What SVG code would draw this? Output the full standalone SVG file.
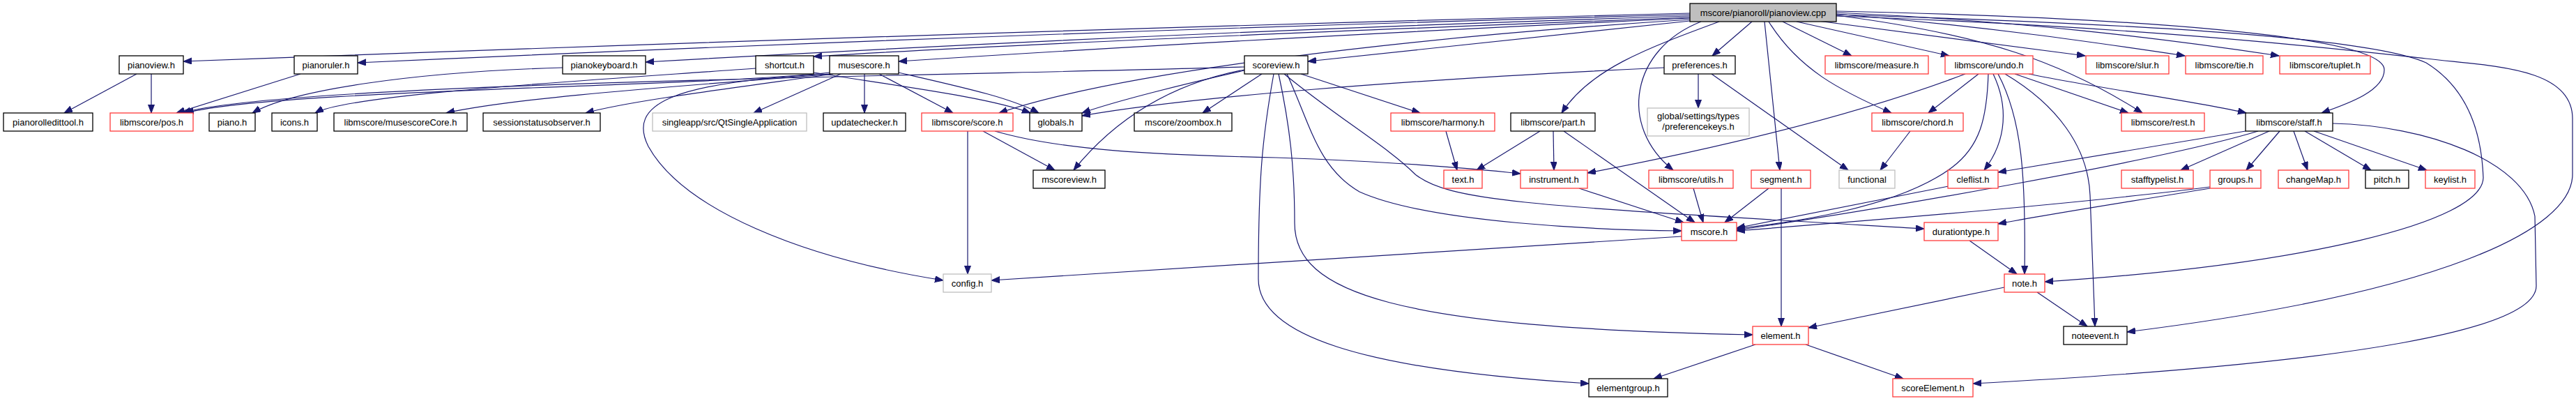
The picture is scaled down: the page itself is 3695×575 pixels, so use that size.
<svg xmlns="http://www.w3.org/2000/svg" width="3695" height="575" viewBox="0 0 3695 575">
<defs>
<marker id="a" markerUnits="userSpaceOnUse" markerWidth="13" markerHeight="10" refX="12" refY="4.5" orient="auto"><path d="M0,0 L12,4.5 L0,9 z" fill="#191970" stroke="#191970" stroke-width="1"/></marker>
</defs>
<style>
rect{fill:#fff;stroke:#000;stroke-width:1.3}
.r rect{stroke:#ff3b3b}
.g rect{stroke:#bfbfbf}
.t rect{fill:#bfbfbf}
text{font-family:"Liberation Sans",Arial,sans-serif;font-size:13px;text-anchor:middle;fill:#000}
#edges path{fill:none;stroke:#191970;stroke-width:1.2;marker-end:url(#a)}
</style>
<rect x="0" y="0" width="3695" height="575" style="fill:#fff;stroke:none"/>
<g id="edges">
<path d="M2424,19 Q1400,45 263,88"/>
<path d="M2424,21 Q1500,45 513,90"/>
<path d="M2424,23 Q1700,45 926,89"/>
<path d="M2424,25 Q1500,60 1167,81"/>
<path d="M2424,26 Q1800,55 1289,88"/>
<path d="M2424,30 Q2150,60 1876,88"/>
<path d="M2424,28 C2000,55 1600,105 1433,162"/>
<path d="M2513,31 L2456,80"/>
<path d="M2466,31 C2360,70 2280,100 2240,162"/>
<path d="M2440,31 C2340,70 2320,180 2400,244"/>
<path d="M2531,31 L2553,244"/>
<path d="M2537,31 C2580,100 2640,130 2713,162"/>
<path d="M2557,31 L2656,80"/>
<path d="M2577,31 L2796,80"/>
<path d="M2600,29 L2991,80"/>
<path d="M2634,22 C2850,50 2960,90 3073,162"/>
<path d="M2634,20 C2850,38 3000,60 3134,80"/>
<path d="M2634,18 C2900,30 3100,55 3269,80"/>
<path d="M2634,16 C3050,25 3420,50 3420,100 C3420,130 3370,148 3330,162"/>
<path d="M2634,21 C3100,35 3400,55 3480,90 C3545,130 3560,200 3562,255 C3560,320 3300,380 2933,404"/>
<path d="M2634,23 C3100,40 3350,70 3480,84 C3570,95 3690,95 3690,170 L3690,250 C3690,330 3500,420 3051,476"/>
<path d="M196,106 L92,162"/>
<path d="M217,106 L217,162"/>
<path d="M431,106 L253,162"/>
<path d="M807,97 C600,103 420,128 362,162"/>
<path d="M1084,98 C850,115 500,135 452,162"/>
<path d="M1190,104 C1000,125 400,128 266,162"/>
<path d="M1785,96 C1400,108 400,118 262,162"/>
<path d="M1195,106 C1000,122 750,138 640,162"/>
<path d="M1195,106 C1060,125 900,145 840,162"/>
<path d="M1206,106 L1081,162"/>
<path d="M1240,106 L1240,162"/>
<path d="M1261,106 L1367,162"/>
<path d="M1289,104 C1380,125 1450,140 1490,162"/>
<path d="M1167,104 C1300,125 1420,140 1478,162"/>
<path d="M1190,106 C960,118 900,150 930,210 C980,300 1150,370 1353,402"/>
<path d="M1785,101 C1700,120 1600,145 1552,162"/>
<path d="M2387,97 C2000,115 1700,140 1552,166"/>
<path d="M1785,100 C1680,120 1600,170 1540,244"/>
<path d="M1810,106 L1725,162"/>
<path d="M1866,106 L2037,162"/>
<path d="M1846,106 C1880,180 1890,240 1950,275 C2050,320 2300,330 2412,331"/>
<path d="M1842,106 C1920,170 1990,210 2030,250 C2080,290 2200,295 2760,328"/>
<path d="M1834,106 C1850,180 1857,240 1857,320 C1857,420 2000,470 2514,480"/>
<path d="M1827,106 C1810,200 1805,260 1805,400 C1805,480 1950,530 2279,550"/>
<path d="M1410,188 L1513,244"/>
<path d="M1388,188 L1388,393"/>
<path d="M1427,188 C1520,215 1650,222 1830,226 C2000,232 2100,240 2181,249"/>
<path d="M2074,188 L2090,244"/>
<path d="M2209,188 L2118,244"/>
<path d="M2228,188 L2229,244"/>
<path d="M2243,188 L2431,319"/>
<path d="M2265,270 L2415,319"/>
<path d="M2429,270 L2443,319"/>
<path d="M2537,270 L2474,319"/>
<path d="M2555,270 L2555,468"/>
<path d="M2436,106 L2436,155"/>
<path d="M2455,106 L2651,244"/>
<path d="M2740,188 L2697,244"/>
<path d="M2819,106 C2650,170 2450,215 2277,248"/>
<path d="M2838,106 L2766,162"/>
<path d="M2852,106 C2850,170 2840,210 2800,240 C2720,300 2560,320 2491,328"/>
<path d="M2859,106 C2880,150 2880,200 2846,244"/>
<path d="M2866,106 C2900,170 2906,250 2904,393"/>
<path d="M2876,106 C2950,150 2995,210 2998,280 L3005,468"/>
<path d="M2890,106 L3053,162"/>
<path d="M2910,106 C3000,125 3150,145 3222,162"/>
<path d="M2795,267 L2491,327"/>
<path d="M3221,188 L2866,247"/>
<path d="M3239,188 C3100,230 2700,300 2491,330"/>
<path d="M3255,188 L3128,244"/>
<path d="M3270,188 L3222,244"/>
<path d="M3290,188 L3310,244"/>
<path d="M3306,188 L3401,244"/>
<path d="M3319,188 L3481,244"/>
<path d="M3346,177 C3480,180 3620,230 3636,310 L3638,410 C3638,470 3400,520 2830,550"/>
<path d="M3170,268 C3000,290 2700,315 2491,331"/>
<path d="M3170,270 C3050,290 2950,305 2866,321"/>
<path d="M2825,345 L2893,393"/>
<path d="M2875,412 L2594,470"/>
<path d="M2922,419 L2994,468"/>
<path d="M2412,339 L1422,402"/>
<path d="M2518,494 L2372,543"/>
<path d="M2590,494 L2730,543"/>
</g>
<g id="n_top" class="t"><rect x="2424" y="5" width="210" height="26"/><text x="2529" y="22.5">mscore/pianoroll/pianoview.cpp</text></g>
<g id="n_pianoview"><rect x="171" y="80" width="92" height="26"/><text x="217" y="97.5">pianoview.h</text></g>
<g id="n_pianoruler"><rect x="422" y="80" width="91" height="26"/><text x="467.5" y="97.5">pianoruler.h</text></g>
<g id="n_pianokeyboard"><rect x="807" y="80" width="119" height="26"/><text x="866.5" y="97.5">pianokeyboard.h</text></g>
<g id="n_shortcut"><rect x="1084" y="80" width="83" height="26"/><text x="1125.5" y="97.5">shortcut.h</text></g>
<g id="n_musescore"><rect x="1190" y="80" width="99" height="26"/><text x="1239.5" y="97.5">musescore.h</text></g>
<g id="n_scoreview"><rect x="1785" y="80" width="91" height="26"/><text x="1830.5" y="97.5">scoreview.h</text></g>
<g id="n_preferences"><rect x="2387" y="80" width="102" height="26"/><text x="2438" y="97.5">preferences.h</text></g>
<g id="n_measure" class="r"><rect x="2618" y="80" width="148" height="26"/><text x="2692" y="97.5">libmscore/measure.h</text></g>
<g id="n_undo" class="r"><rect x="2790" y="80" width="126" height="26"/><text x="2853" y="97.5">libmscore/undo.h</text></g>
<g id="n_slur" class="r"><rect x="2992" y="80" width="119" height="26"/><text x="3051.5" y="97.5">libmscore/slur.h</text></g>
<g id="n_tie" class="r"><rect x="3135" y="80" width="111" height="26"/><text x="3190.5" y="97.5">libmscore/tie.h</text></g>
<g id="n_tuplet" class="r"><rect x="3270" y="80" width="130" height="26"/><text x="3335" y="97.5">libmscore/tuplet.h</text></g>
<g id="n_pianorolledittool"><rect x="5" y="162" width="128" height="26"/><text x="69" y="179.5">pianorolledittool.h</text></g>
<g id="n_pos" class="r"><rect x="158" y="162" width="119" height="26"/><text x="217.5" y="179.5">libmscore/pos.h</text></g>
<g id="n_piano"><rect x="300" y="162" width="66" height="26"/><text x="333" y="179.5">piano.h</text></g>
<g id="n_icons"><rect x="390" y="162" width="65" height="26"/><text x="422.5" y="179.5">icons.h</text></g>
<g id="n_musescoreCore"><rect x="479" y="162" width="191" height="26"/><text x="574.5" y="179.5">libmscore/musescoreCore.h</text></g>
<g id="n_sessionstatusobserver"><rect x="693" y="162" width="168" height="26"/><text x="777" y="179.5">sessionstatusobserver.h</text></g>
<g id="n_qtsingleapp" class="g"><rect x="936" y="162" width="221" height="26"/><text x="1046.5" y="179.5">singleapp/src/QtSingleApplication</text></g>
<g id="n_updatechecker"><rect x="1181" y="162" width="118" height="26"/><text x="1240" y="179.5">updatechecker.h</text></g>
<g id="n_score" class="r"><rect x="1322" y="162" width="131" height="26"/><text x="1387.5" y="179.5">libmscore/score.h</text></g>
<g id="n_globals"><rect x="1477" y="162" width="75" height="26"/><text x="1514.5" y="179.5">globals.h</text></g>
<g id="n_zoombox"><rect x="1627" y="162" width="140" height="26"/><text x="1697" y="179.5">mscore/zoombox.h</text></g>
<g id="n_harmony" class="r"><rect x="1995" y="162" width="149" height="26"/><text x="2069.5" y="179.5">libmscore/harmony.h</text></g>
<g id="n_part"><rect x="2167" y="162" width="121" height="26"/><text x="2227.5" y="179.5">libmscore/part.h</text></g>
<g id="n_preferencekeys" class="g"><rect x="2363" y="155" width="146" height="40"/><text x="2436" y="171">global/settings/types</text><text x="2436" y="186">/preferencekeys.h</text></g>
<g id="n_chord" class="r"><rect x="2685" y="162" width="131" height="26"/><text x="2750.5" y="179.5">libmscore/chord.h</text></g>
<g id="n_rest" class="r"><rect x="3043" y="162" width="119" height="26"/><text x="3102.5" y="179.5">libmscore/rest.h</text></g>
<g id="n_staff"><rect x="3221" y="162" width="125" height="26"/><text x="3283.5" y="179.5">libmscore/staff.h</text></g>
<g id="n_mscoreview"><rect x="1482" y="244" width="103" height="26"/><text x="1533.5" y="261.5">mscoreview.h</text></g>
<g id="n_text" class="r"><rect x="2071" y="244" width="55" height="26"/><text x="2098.5" y="261.5">text.h</text></g>
<g id="n_instrument" class="r"><rect x="2181" y="244" width="96" height="26"/><text x="2229" y="261.5">instrument.h</text></g>
<g id="n_utils" class="r"><rect x="2365" y="244" width="121" height="26"/><text x="2425.5" y="261.5">libmscore/utils.h</text></g>
<g id="n_segment" class="r"><rect x="2512" y="244" width="85" height="26"/><text x="2554.5" y="261.5">segment.h</text></g>
<g id="n_functional" class="g"><rect x="2638" y="244" width="80" height="26"/><text x="2678" y="261.5">functional</text></g>
<g id="n_cleflist" class="r"><rect x="2794" y="244" width="72" height="26"/><text x="2830" y="261.5">cleflist.h</text></g>
<g id="n_stafftypelist" class="r"><rect x="3043" y="244" width="103" height="26"/><text x="3094.5" y="261.5">stafftypelist.h</text></g>
<g id="n_groups" class="r"><rect x="3170" y="244" width="73" height="26"/><text x="3206.5" y="261.5">groups.h</text></g>
<g id="n_changeMap" class="r"><rect x="3268" y="244" width="101" height="26"/><text x="3318.5" y="261.5">changeMap.h</text></g>
<g id="n_pitch"><rect x="3393" y="244" width="62" height="26"/><text x="3424" y="261.5">pitch.h</text></g>
<g id="n_keylist" class="r"><rect x="3479" y="244" width="71" height="26"/><text x="3514.5" y="261.5">keylist.h</text></g>
<g id="n_mscore" class="r"><rect x="2412" y="319" width="79" height="26"/><text x="2451.5" y="336.5">mscore.h</text></g>
<g id="n_durationtype" class="r"><rect x="2760" y="319" width="106" height="26"/><text x="2813" y="336.5">durationtype.h</text></g>
<g id="n_config" class="g"><rect x="1353" y="393" width="69" height="26"/><text x="1387.5" y="410.5">config.h</text></g>
<g id="n_note" class="r"><rect x="2875" y="393" width="58" height="26"/><text x="2904" y="410.5">note.h</text></g>
<g id="n_element" class="r"><rect x="2514" y="468" width="80" height="26"/><text x="2554" y="485.5">element.h</text></g>
<g id="n_noteevent"><rect x="2960" y="468" width="91" height="26"/><text x="3005.5" y="485.5">noteevent.h</text></g>
<g id="n_elementgroup"><rect x="2279" y="543" width="113" height="26"/><text x="2335.5" y="560.5">elementgroup.h</text></g>
<g id="n_scoreElement" class="r"><rect x="2715" y="543" width="115" height="26"/><text x="2772.5" y="560.5">scoreElement.h</text></g>
</svg>
